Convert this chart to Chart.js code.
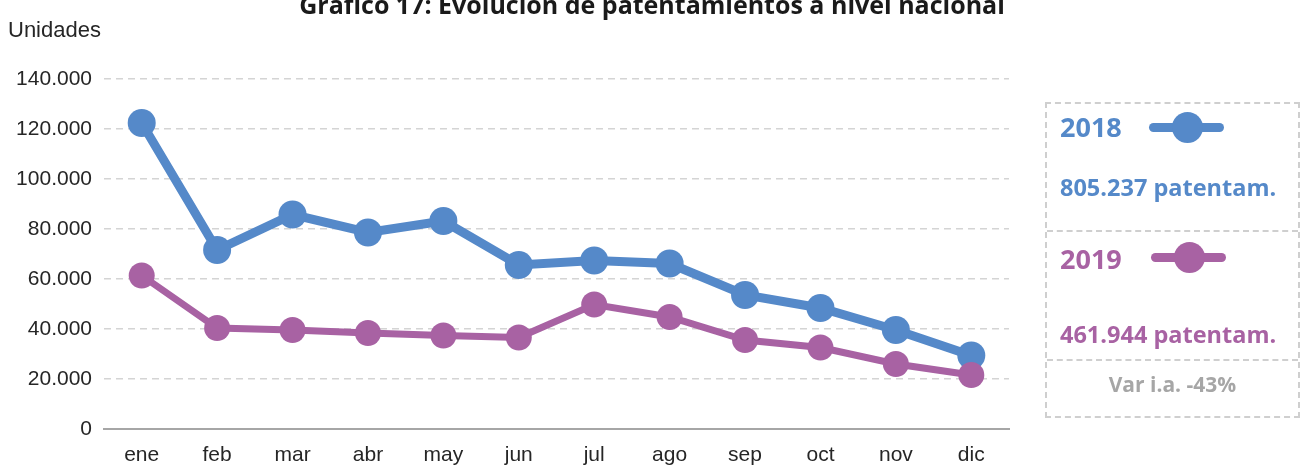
<!DOCTYPE html>
<html>
<head>
<meta charset="utf-8">
<script src="https://cdn.jsdelivr.net/npm/chart.js@4/dist/chart.umd.min.js"></script>
<style>
  body { margin: 0; background: #fff; }
  #wrap { position: relative; width: 1304px; height: 469px; overflow: hidden; }
  #title {
    position: absolute; left: 0; width: 1304px; top: -8px;
    text-align: center; font: bold 25px 'Open Sans', sans-serif; line-height: 25px; color: #1a1a1a;
  }
  #unit {
    position: absolute; left: 8px; top: 17px;
    font: 22px 'Liberation Sans', sans-serif; color: #262626;
  }
  #legend {
    position: absolute; left: 1045px; top: 102px; width: 251px; height: 312px;
    border: 2px dashed #cfcfcf; font-family: 'Open Sans', sans-serif; font-weight: bold;
  }
  .sep { position: absolute; left: 0; width: 251px; border-top: 2px dashed #cfcfcf; }
  .txt { position: absolute; white-space: nowrap; line-height: 1; }
  .mark { position: absolute; height: 9px; border-radius: 5px; }
  .dot { position: absolute; border-radius: 50%; }
</style>
</head>
<body>
<div id="wrap">
  <canvas id="myChart" width="1304" height="469"></canvas>
  <div id="title">Gráfico 17: Evolución de patentamientos a nivel nacional</div>
  <div id="unit">Unidades</div>
  <div id="legend"></div>
</div>
<script>
// Data
const months = ['ene', 'feb', 'mar', 'abr', 'may', 'jun', 'jul', 'ago', 'sep', 'oct', 'nov', 'dic'];
const units2018 = [122400, 71600, 85800, 78600, 83200, 65600, 67400, 66200, 53600, 48400, 39600, 29400];
const units2019 = [61400, 40400, 39600, 38400, 37400, 36600, 49800, 44800, 35600, 32600, 26000, 21600];
const yTickLabels = ['0', '20.000', '40.000', '60.000', '80.000', '100.000', '120.000', '140.000'];
const legendRows = [
    { year: '2018', total: '805.237 patentam.', color: '#5589c9' },
    { year: '2019', total: '461.944 patentam.', color: '#a862a3' }
];
const variation = 'Var i.a. -43%';

const blue = legendRows[0].color;
const purple = legendRows[1].color;
const tickFont = { family: "'Liberation Sans', sans-serif", size: 21 };

// Build the chart
const ctx = document.getElementById('myChart').getContext('2d');
const chart = new Chart(ctx, {
    type: 'line',
    data: {
        labels: months,
        datasets: [{
            label: '2018',
            data: units2018,
            borderColor: blue,
            backgroundColor: blue,
            pointBackgroundColor: blue,
            borderWidth: 9,
            pointRadius: 14,
            pointBorderWidth: 0,
            tension: 0,
            order: 2
        }, {
            label: '2019',
            data: units2019,
            borderColor: purple,
            backgroundColor: purple,
            pointBackgroundColor: purple,
            borderWidth: 7,
            pointRadius: 13,
            pointBorderWidth: 0,
            tension: 0,
            order: 1
        }]
    },
    options: {
        responsive: false,
        animation: false,
        layout: { padding: { top: 79, right: 295, left: 0, bottom: 0 } },
        plugins: {
            legend: { display: false },
            tooltip: { enabled: false },
            title: { display: false }
        },
        scales: {
            x: {
                offset: true,
                grid: { display: false, drawTicks: false },
                border: { display: true, color: '#a6a6a6', width: 2 },
                ticks: { font: tickFont, color: '#262626', padding: 14, maxRotation: 0 },
                afterFit: (scale) => { scale.height = 40; }
            },
            y: {
                min: 0,
                max: 140000,
                ticks: {
                    stepSize: 20000,
                    font: tickFont,
                    color: '#262626',
                    padding: 12,
                    callback: (value, index) => yTickLabels[index]
                },
                grid: { color: '#d4d4d4', lineWidth: 1.5, drawTicks: false },
                border: { display: false, dash: [7, 5] },
                afterFit: (scale) => { scale.width = 104; }
            }
        }
    }
});

// Legend box on the right
const legend = document.getElementById('legend');
const rowTops = [0, 129];
const totalTops = [72, 219];
legendRows.forEach((row, i) => {
    const top = rowTops[i];
    legend.insertAdjacentHTML('beforeend',
        `<div class="txt" style="left:13px;top:${top + (i === 0 ? 9 : 12)}px;font-size:27px;color:${row.color}">${row.year}</div>` +
        `<div class="mark" style="left:${102 + i * 2}px;top:${top + 20 - (i === 0 ? 1 : 0)}px;width:75px;background:${row.color}"></div>` +
        `<div class="dot" style="left:${125 + i * 2}px;top:${top + 9 - (i === 0 ? 1 : 0)}px;width:31px;height:31px;background:${row.color}"></div>` +
        `<div class="txt" style="left:13px;top:${totalTops[i]}px;font-size:23.5px;color:${row.color}">${row.total}</div>`
    );
});
legend.insertAdjacentHTML('beforeend',
    `<div class="sep" style="top:126px"></div><div class="sep" style="top:255px"></div>` +
    `<div class="txt" style="left:0;width:251px;text-align:center;top:270px;font-size:21px;color:#a6a6a6">${variation}</div>`
);
</script>
</body>
</html>
